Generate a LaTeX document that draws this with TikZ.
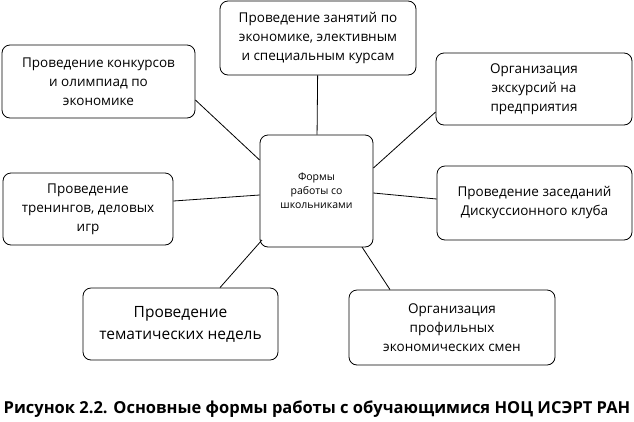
\documentclass[tikz,border=0pt]{standalone}
\usepackage{fontspec}
\setmainfont{Open Sans}
\begin{document}
\begin{tikzpicture}[x=1pt,y=-1pt,
  bx/.style={draw,thick,rounded corners=8pt,align=center,font=\fontsize{13.5}{19}\selectfont,inner sep=0pt},
  ln/.style={thick}]
\useasboundingbox (0,0) rectangle (634,421);
\newcommand{\bx}[7]{\node[bx,minimum width=#4-#2,minimum height=#5-#3,#7] (#1) at ({(#2+#4)/2},{(#3+#5)/2}) {#6};}
\bx{c}{260}{135}{373}{247}{Формы\\работы со\\школьниками}{font=\fontsize{10.5}{14}\selectfont}
\bx{t}{220}{1}{416}{75}{Проведение занятий по\\экономике, элективным\\и специальным курсам}{}
\bx{tl}{2}{45}{195}{118}{Проведение конкурсов\\и олимпиад по\\экономике}{}
\bx{tr}{436}{53}{632}{125}{Организация\\экскурсий на\\предприятия}{}
\bx{ml}{3}{173}{173}{245}{Проведение\\тренингов, деловых\\игр}{}
\bx{mr}{437}{166}{632}{240}{Проведение заседаний\\Дискуссионного клуба}{}
\bx{bl}{83}{288}{278}{360}{Проведение\\тематических недель}{font=\fontsize{15.5}{22}\selectfont}
\bx{br}{349}{290}{555}{365}{Организация\\профильных\\экономических смен}{}
\draw[ln] (t) -- (c);
\draw[ln] (tl.east |- 0,100) -- (c.west |- 0,160);
\draw[ln] (tr.west |- 0,112) -- (c.east |- 0,168);
\draw[ln] (ml.east |- 0,201) -- (c.west |- 0,195);
\draw[ln] (mr.west |- 0,199) -- (c.east |- 0,193);
\draw[ln] (bl.north -| 220,0) -- (262,240);
\draw[ln] (br.north -| 390,0) -- (362,247);
\node[font=\bfseries\fontsize{16.5}{18}\selectfont] (cap) at (317,409) {Рисунок 2.2. Основные формы работы с обучающимися НОЦ ИСЭРТ РАН};
\end{tikzpicture}
\end{document}
